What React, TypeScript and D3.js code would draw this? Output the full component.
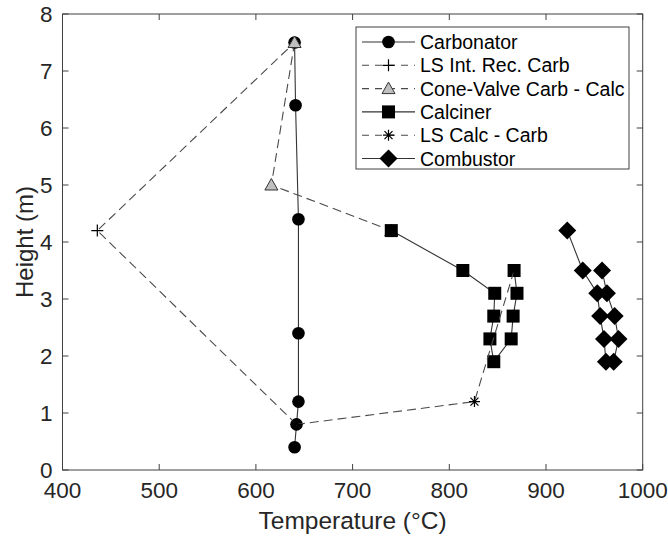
import * as d3 from "d3";
import React from "react";

// Temperature (°C) / height (m)
const carbT = [640, 642, 644, 644, 644, 641, 640];
const carbH = [0.4, 0.8, 1.2, 2.4, 4.4, 6.4, 7.5];
const lsRecT = [642, 436, 640];
const lsRecH = [0.8, 4.2, 7.5];
const coneT = [640, 616, 740];
const coneH = [7.5, 5.0, 4.2];
const calcT = [740, 814, 847, 846, 842, 846, 864, 866, 870, 867];
const calcH = [4.2, 3.5, 3.1, 2.7, 2.3, 1.9, 2.3, 2.7, 3.1, 3.5];
const lsCalcT = [867, 826, 642];
const lsCalcH = [3.5, 1.2, 0.8];
const combT = [922, 938, 953, 956, 960, 962, 970, 975, 971, 963, 958];
const combH = [4.2, 3.5, 3.1, 2.7, 2.3, 1.9, 1.9, 2.3, 2.7, 3.1, 3.5];

const xTicks = [400, 500, 600, 700, 800, 900, 1000];
const yTicks = [0, 1, 2, 3, 4, 5, 6, 7, 8];

const WIDTH = 668;
const HEIGHT = 536;
const margin = { left: 62.5, right: 25.3, top: 14, bottom: 66 };
const FONT = "'Liberation Sans', Arial, Helvetica, sans-serif";
const AXIS = "#404040";

type Marker = "circle" | "plus" | "triangle" | "square" | "asterisk" | "diamond";

const series = [
  { name: "Carbonator", t: carbT, h: carbH, marker: "circle" as Marker, dashed: false },
  { name: "LS Int. Rec. Carb", t: lsRecT, h: lsRecH, marker: "plus" as Marker, dashed: true },
  { name: "Cone-Valve Carb - Calc", t: coneT, h: coneH, marker: "triangle" as Marker, dashed: true },
  { name: "Calciner", t: calcT, h: calcH, marker: "square" as Marker, dashed: false },
  { name: "LS Calc - Carb", t: lsCalcT, h: lsCalcH, marker: "asterisk" as Marker, dashed: true },
  { name: "Combustor", t: combT, h: combH, marker: "diamond" as Marker, dashed: false },
];

const drawMarker = (m: Marker, cx: number, cy: number, key: string) => {
  switch (m) {
    case "circle":
      return <circle key={key} cx={cx} cy={cy} r={6.3} fill="#000" />;
    case "square":
      return <rect key={key} x={cx - 6.5} y={cy - 6.5} width={13} height={13} fill="#000" />;
    case "diamond":
      return (
        <path key={key} d={`M${cx},${cy - 9}L${cx + 9},${cy}L${cx},${cy + 9}L${cx - 9},${cy}Z`} fill="#000" />
      );
    case "triangle":
      return (
        <path
          key={key}
          d={`M${cx},${cy - 6.5}L${cx + 6.5},${cy + 5}L${cx - 6.5},${cy + 5}Z`}
          fill="#bfbfbf"
          stroke="#333"
          strokeWidth={1}
        />
      );
    case "plus":
      return (
        <path key={key} d={`M${cx - 6},${cy}H${cx + 6}M${cx},${cy - 6}V${cy + 6}`} stroke="#000" strokeWidth={1.2} />
      );
    case "asterisk":
      return (
        <path
          key={key}
          d={`M${cx - 5.5},${cy}H${cx + 5.5}M${cx},${cy - 5.5}V${cy + 5.5}M${cx - 4},${cy - 4}L${cx + 4},${cy + 4}M${cx - 4},${cy + 4}L${cx + 4},${cy - 4}`}
          stroke="#000"
          strokeWidth={1.2}
        />
      );
  }
};

const App = () => {
  const innerW = WIDTH - margin.left - margin.right;
  const innerH = HEIGHT - margin.top - margin.bottom;
  const x = d3.scaleLinear().domain([400, 1000]).range([margin.left, margin.left + innerW]);
  const y = d3.scaleLinear().domain([0, 8]).range([margin.top + innerH, margin.top]);

  const line = d3
    .line<[number, number]>()
    .x((d) => x(d[0]))
    .y((d) => y(d[1]));

  const x0 = margin.left;
  const x1 = margin.left + innerW;
  const y0 = margin.top + innerH;
  const y1 = margin.top;

  // legend geometry
  const lg = { x: 356, y: 27, w: 273, h: 142, row: 23.3, first: 42 };

  return (
    <svg width={WIDTH} height={HEIGHT} style={{ position: "absolute", left: 0, top: 0, background: "#fff" }}>
      <rect width={WIDTH} height={HEIGHT} fill="#fff" />

      {/* series */}
      {series.map((s, si) => {
        const pts = s.t.map((t, i) => [t, s.h[i]] as [number, number]);
        return (
          <g key={s.name}>
            <path
              d={line(pts) || ""}
              fill="none"
              stroke={s.dashed ? "#4a4a4a" : "#333"}
              strokeWidth={1.1}
              strokeDasharray={s.dashed ? "9,5" : undefined}
            />
            {pts.map((p, i) => drawMarker(s.marker, x(p[0]), y(p[1]), `m${si}-${i}`))}
          </g>
        );
      })}

      {/* axes box */}
      <rect x={x0} y={y1} width={innerW} height={innerH} fill="none" stroke={AXIS} strokeWidth={1} />
      {xTicks.map((t) => (
        <g key={`xt${t}`}>
          <line x1={x(t)} x2={x(t)} y1={y0} y2={y0 - 6} stroke={AXIS} />
          <line x1={x(t)} x2={x(t)} y1={y1} y2={y1 + 6} stroke={AXIS} />
          <text x={x(t)} y={y0 + 28} textAnchor="middle" fontFamily={FONT} fontSize={22.5} fill="#262626">
            {t}
          </text>
        </g>
      ))}
      {yTicks.map((t) => (
        <g key={`yt${t}`}>
          <line x1={x0} x2={x0 + 6} y1={y(t)} y2={y(t)} stroke={AXIS} />
          <line x1={x1} x2={x1 - 6} y1={y(t)} y2={y(t)} stroke={AXIS} />
          <text x={x0 - 10} y={y(t) + 8} textAnchor="end" fontFamily={FONT} fontSize={22.5} fill="#262626">
            {t}
          </text>
        </g>
      ))}

      <text x={(x0 + x1) / 2} y={y0 + 59} textAnchor="middle" fontFamily={FONT} fontSize={24.5} fill="#262626">
        Temperature (°C)
      </text>
      <text
        transform={`translate(33,${(y0 + y1) / 2}) rotate(-90)`}
        textAnchor="middle"
        fontFamily={FONT}
        fontSize={24}
        fill="#262626"
      >
        Height (m)
      </text>

      {/* legend */}
      <rect x={lg.x} y={lg.y} width={lg.w} height={lg.h} fill="#fff" stroke={AXIS} strokeWidth={1} />
      {series.map((s, i) => {
        const cy = lg.first + i * lg.row;
        return (
          <g key={`lg${i}`}>
            <line
              x1={362}
              x2={415}
              y1={cy}
              y2={cy}
              stroke={s.dashed ? "#4a4a4a" : "#333"}
              strokeWidth={1.1}
              strokeDasharray={s.dashed ? "7,6" : undefined}
            />
            {drawMarker(s.marker, 388.5, cy, `lm${i}`)}
            <text x={420} y={cy + 7} fontFamily={FONT} fontSize={19.5} fill="#000">
              {s.name}
            </text>
          </g>
        );
      })}
    </svg>
  );
};

export default App;
